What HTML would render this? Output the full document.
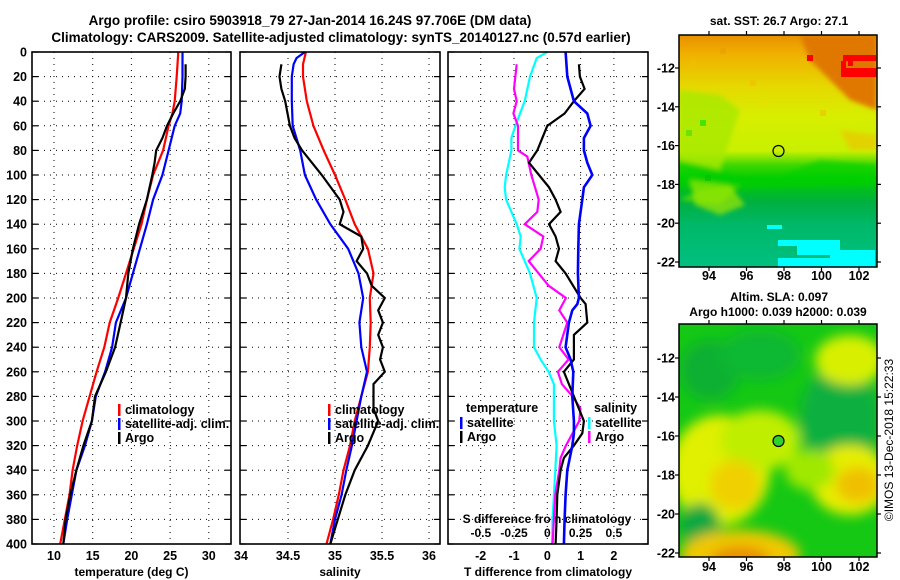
<!DOCTYPE html>
<html><head><meta charset="utf-8">
<style>
html,body{margin:0;padding:0;background:#fff;}
svg{display:block;font-family:"Liberation Sans",Arial,sans-serif;font-weight:bold;}
</style></head>
<body>
<svg id="chart" width="900" height="580" viewBox="0 0 900 580" xmlns="http://www.w3.org/2000/svg">
<defs>
<filter id="blur6" x="-20%" y="-20%" width="140%" height="140%"><feGaussianBlur stdDeviation="6"/></filter>
<filter id="blur3"><feGaussianBlur stdDeviation="2.5"/></filter>
<clipPath id="clipMap1"><rect x="679" y="35" width="198" height="232"/></clipPath>
<clipPath id="clipMap2"><rect x="679" y="324" width="198" height="233"/></clipPath>
<linearGradient id="sstGrad" x1="0" y1="0" x2="0" y2="1">
<stop offset="0" stop-color="#e89000"/>
<stop offset="0.08" stop-color="#f0b000"/>
<stop offset="0.22" stop-color="#e6d800"/>
<stop offset="0.35" stop-color="#d8ee00"/>
<stop offset="0.5" stop-color="#c8f000"/>
<stop offset="0.56" stop-color="#40d800"/>
<stop offset="0.62" stop-color="#00cc00"/>
<stop offset="0.72" stop-color="#00b040"/>
<stop offset="0.82" stop-color="#00b868"/>
<stop offset="1" stop-color="#00c080"/>
</linearGradient>
</defs>
<g id="titles">
<text x="310" y="25" font-size="13.5" text-anchor="middle">Argo profile: csiro 5903918_79 27-Jan-2014 16.24S 97.706E (DM data)</text>
<text x="341" y="42" font-size="13.5" text-anchor="middle">Climatology: CARS2009. Satellite-adjusted climatology: synTS_20140127.nc (0.57d earlier)</text>
</g>
<g id="panels"></g>
<g id="maps">
 <g clip-path="url(#clipMap1)">
  <rect x="679" y="35" width="198" height="232" fill="url(#sstGrad)"/>
  <g filter="url(#blur3)">
   <polygon points="800,35 877,35 877,110 850,100 830,80 810,60" fill="#e07800"/>
   <polygon points="679,90 720,95 740,110 730,140 720,170 679,160" fill="#a8e800" opacity="0.8"/>
   <polygon points="679,160 720,170 740,178 780,176 820,160 877,165 877,185 700,190 679,185" fill="#00d000" opacity="0.6"/>
   <polygon points="679,200 720,205 740,185 700,190" fill="#60e000" opacity="0.7"/>
   <polygon points="690,180 730,185 745,205 720,215 695,205" fill="#a0e800" opacity="0.7"/>
   <polygon points="840,130 877,135 877,150 850,150" fill="#f0c000" opacity="0.6"/>
  </g>
  <g opacity="0.6">
   <rect x="690" y="60" width="6" height="6" fill="#f0c000"/><rect x="720" y="48" width="6" height="6" fill="#e8a000"/>
   <rect x="750" y="80" width="6" height="6" fill="#f0c000"/><rect x="700" y="120" width="6" height="6" fill="#00e000"/>
   <rect x="686" y="130" width="6" height="6" fill="#40e000"/><rect x="760" y="100" width="6" height="6" fill="#e8e000"/>
   <rect x="820" y="110" width="6" height="6" fill="#f0c000"/><rect x="705" y="175" width="6" height="6" fill="#00c000"/>
  </g>
  <rect x="807" y="55" width="6" height="6" fill="#ff0000"/>
  <rect x="843" y="55" width="33" height="6" fill="#ff0000"/><rect x="848" y="60" width="5" height="6" fill="#ff0000"/>
  <rect x="841" y="68" width="36" height="9" fill="#ff0000"/><rect x="841" y="61" width="5" height="16" fill="#ff0000"/>
  <rect x="830" y="250" width="45" height="17" fill="#00ffff"/>
  <rect x="797" y="240" width="43" height="15" fill="#00ffff"/>
  <rect x="767" y="225" width="15" height="4" fill="#00ffff"/>
  <rect x="778" y="258" width="60" height="9" fill="#00ffff"/>
  <rect x="778" y="240" width="20" height="6" fill="#00ffff"/>
 </g>
 <rect x="679" y="35" width="198" height="232" fill="none" stroke="#000" stroke-width="1.5"/>
 <circle cx="778.5" cy="151" r="5.5" fill="none" stroke="#000" stroke-width="1.2"/>
 <g clip-path="url(#clipMap2)">
  <rect x="679" y="324" width="198" height="233" fill="#14c814"/>
  <g filter="url(#blur6)">
   <ellipse cx="710" cy="370" rx="30" ry="30" fill="#08b030"/>
   <ellipse cx="840" cy="420" rx="40" ry="55" fill="#08b040"/>
   <ellipse cx="760" cy="355" rx="40" ry="25" fill="#10b830"/>
   <ellipse cx="850" cy="360" rx="35" ry="25" fill="#d8f000"/>
   <ellipse cx="720" cy="470" rx="50" ry="55" fill="#e0f000"/>
   <ellipse cx="760" cy="440" rx="40" ry="30" fill="#c0ee00"/>
   <ellipse cx="850" cy="480" rx="40" ry="35" fill="#e6ee00"/>
   <ellipse cx="858" cy="485" rx="22" ry="18" fill="#f0c000"/>
   <ellipse cx="735" cy="485" rx="25" ry="25" fill="#f0d000"/>
   <ellipse cx="700" cy="525" rx="20" ry="22" fill="#08a840"/>
   <ellipse cx="740" cy="555" rx="60" ry="25" fill="#f0c800"/>
   <ellipse cx="740" cy="560" rx="30" ry="14" fill="#e89000"/>
   <ellipse cx="810" cy="470" rx="25" ry="20" fill="#a0e800"/>
  </g>
 </g>
 <rect x="679" y="324" width="198" height="233" fill="none" stroke="#000" stroke-width="1.5"/>
 <circle cx="778.5" cy="441" r="5.5" fill="#30d030" stroke="#000" stroke-width="1.2"/>
 <text x="779" y="25" font-size="12" text-anchor="middle">sat. SST: 26.7 Argo: 27.1</text>
 <text x="779" y="301" font-size="12" text-anchor="middle">Altim. SLA: 0.097</text>
 <text x="778" y="316" font-size="12" text-anchor="middle">Argo h1000: 0.039 h2000: 0.039</text>
 <text transform="translate(893,440) rotate(-90)" font-size="12" font-weight="normal" text-anchor="middle">©IMOS 13-Dec-2018 15:22:33</text>
 <g id="mapTicks"></g>
</g>
</svg>
<script>
// ---- depth axis
const depthTicks = [0,20,40,60,80,100,120,140,160,180,200,220,240,260,280,300,320,340,360,380,400];
// ---- panel 1: temperature
const tTicks = [10,15,20,25,30];
const tClimDepth = [0,20,40,50,60,80,100,120,140,160,180,200,220,240,260,280,300,320,340,360,380,400];
const tClim = [26.06,25.85,25.6,25.3,24.8,24.1,22.8,22.0,21.3,20.3,19.3,18.3,17.2,16.5,15.5,14.6,13.7,13.0,12.4,12.0,11.4,10.8];
const tSatDepth = [0,20,40,50,60,80,100,120,140,160,180,200,220,240,260,280,300,320,340,360,380,400];
const tSat = [26.6,26.6,26.5,26.3,25.6,24.8,24.0,22.8,22.0,21.1,20.2,19.3,18.0,17.5,16.6,15.4,14.9,14.0,12.9,12.3,11.7,11.2];
const tArgoDepth = [10,20,30,40,50,60,70,80,90,100,120,140,160,180,200,220,240,260,280,300,320,340,360,380,400];
const tArgo = [27.0,27.0,26.9,26.3,25.4,24.6,24.0,23.2,23.0,22.7,22.0,21.0,20.2,19.6,19.3,18.6,17.9,16.7,15.3,14.9,13.8,12.9,12.1,11.5,11.2];
// ---- panel 2: salinity
const sTicks = [34,34.5,35,35.5,36];
const sClimDepth = [0,10,20,40,60,80,100,120,140,160,180,200,220,240,260,280,300,320,340,360,380,400];
const sClim = [34.69,34.66,34.66,34.70,34.77,34.88,35.0,35.11,35.21,35.35,35.41,35.37,35.38,35.37,35.35,35.28,35.21,35.16,35.09,35.04,34.98,34.91];
const sSatDepth = [0,5,10,20,40,60,80,100,120,140,160,180,200,220,240,260,280,300,320,340,360,380,400];
const sSat = [34.68,34.59,34.56,34.54,34.54,34.55,34.63,34.68,34.80,34.95,35.14,35.25,35.30,35.26,35.28,35.34,35.28,35.23,35.18,35.12,35.07,35.0,34.95];
const sArgoDepth = [10,20,30,40,60,70,80,100,120,130,140,150,160,170,180,190,200,210,220,230,240,250,260,270,290,300,320,340,360,380,400];
const sArgo = [34.43,34.41,34.43,34.47,34.52,34.57,34.65,34.86,35.05,35.09,35.05,35.28,35.30,35.23,35.34,35.39,35.53,35.46,35.51,35.46,35.51,35.48,35.53,35.41,35.41,35.46,35.35,35.21,35.11,35.03,34.95];
// ---- panel 3: differences
const tdTicks = [-2,-1,0,1,2];
const sdTicks = [-0.5,-0.25,0,0.25,0.5];
const tdSatDepth = [0,20,40,50,60,70,80,90,100,110,120,140,160,180,200,205,210,220,240,250,260,280,300,310,320,340,360,380,400];
const tdSat = [0.55,0.6,0.8,1.2,1.3,1.1,1.1,1.2,1.35,1.1,1.05,0.95,0.93,0.92,0.95,0.9,0.75,0.65,0.55,0.7,0.78,0.75,0.8,0.8,0.75,0.6,0.55,0.52,0.5];
const tdArgoDepth = [10,20,30,40,50,60,70,80,90,100,110,120,130,140,150,160,170,180,200,205,220,230,250,260,280,300,310,320,330,340,360,380,400];
const tdArgo = [0.95,0.98,1.12,0.8,0.52,0.0,-0.15,-0.3,-0.55,-0.25,0.05,0.25,0.4,0.05,0.25,0.35,0.25,0.55,1.0,1.15,1.2,0.8,0.8,0.5,0.8,1.1,1.05,0.8,0.5,0.4,0.3,0.28,0.25];
const sdArgoDepth = [10,30,40,50,60,70,80,85,100,120,130,140,150,160,170,180,190,200,210,220,240,250,260,270,280,290,300,310,320,330,340,360,380,400];
const sdArgo = [-0.23,-0.25,-0.23,-0.255,-0.22,-0.22,-0.22,-0.15,-0.12,-0.065,-0.075,-0.17,-0.03,-0.05,-0.14,-0.065,0.01,0.14,0.09,0.15,0.09,0.16,0.08,0.11,0.19,0.25,0.24,0.19,0.14,0.1,0.09,0.06,0.05,0.04];
const sdSatDepth = [0,5,20,40,60,70,80,100,110,120,130,140,150,160,180,200,220,240,250,260,270,300,320,340,360,380,400];
const sdSat = [0.0,-0.08,-0.13,-0.17,-0.24,-0.27,-0.27,-0.31,-0.32,-0.31,-0.27,-0.23,-0.2,-0.21,-0.13,-0.08,-0.1,-0.1,-0.05,0.01,0.05,0.05,0.07,0.06,0.05,0.04,0.035];
// ---- maps
const lonTicks = [94,96,98,100,102];
const latTicks = [-12,-14,-16,-18,-20,-22];

const NS="http://www.w3.org/2000/svg";
const yD = d => 52 + d*1.23;
const xT = t => 54 + (t-10)*7.74;
const xS = s => 288 + (s-34.5)*94;
const xTd = t => 547.3 + t*33.3;
const xSd = s => 547.3 + s*133;
const root = document.getElementById('panels');
function mk(tag, attrs, parent){const e=document.createElementNS(NS,tag);for(const k in attrs)e.setAttribute(k,attrs[k]);(parent||root).appendChild(e);return e;}
function txt(x,y,s,size,anchor,parent){const e=mk('text',{x:x,y:y,'font-size':size,'text-anchor':anchor||'middle'},parent);e.textContent=s;return e;}

const panels=[{x0:32,x1:231,name:'temperature-panel',ticks:tTicks,xf:xT,label:'temperature (deg C)'},
 {x0:240,x1:440,name:'salinity-panel',ticks:sTicks,xf:xS,label:'salinity'},
 {x0:448,x1:648,name:'difference-panel',ticks:tdTicks,xf:xTd,label:'T difference from climatology'}];
const yTop=yD(0), yBot=yD(400);
panels.forEach((p,i)=>{
  const g=mk('g',{});
  
  
  depthTicks.forEach(d=>{
    if(d>0&&d<400) mk('line',{x1:p.x0,x2:p.x1,y1:yD(d),y2:yD(d),stroke:'#000','stroke-width':1,'stroke-dasharray':'1 5'},g);
    mk('line',{x1:p.x0,x2:p.x0+6,y1:yD(d),y2:yD(d),stroke:'#000','stroke-width':1.2},g);
    mk('line',{x1:p.x1-6,x2:p.x1,y1:yD(d),y2:yD(d),stroke:'#000','stroke-width':1.2},g);
  });
  p.ticks.forEach(t=>{
    const x=p.xf(t);
    if(x>p.x0+2&&x<p.x1-2) mk('line',{x1:x,x2:x,y1:yTop,y2:yBot,stroke:'#000','stroke-width':1,'stroke-dasharray':'1 5'},g);
    const lb=txt(x,560,String(t),12.5,'middle',g);
    
    
  });
  const al=txt((p.x0+p.x1)/2,576,p.label,12,'middle',g);
  
  
});
const yl=mk('g',{});


depthTicks.forEach(d=>{txt(27,yD(d)+4.5,String(d),12.5,'end',yl);});
const sdg=mk('g',{});


sdTicks.forEach(s=>{txt(xSd(s),537,String(s),12,'middle',sdg);});
txt(547,523,'S difference from climatology',12,'middle',sdg);

function line(depths, vals, xf, color, w, name){
  const pts=depths.map((d,i)=>xf(vals[i]).toFixed(1)+','+yD(d).toFixed(1)).join(' ');
  const e=mk('polyline',{points:pts,fill:'none',stroke:color,'stroke-width':w,'stroke-linejoin':'miter'});
  
  
}
line(tClimDepth,tClim,xT,'#ff0000',2.2,'temperature-climatology-line');
line(tSatDepth,tSat,xT,'#0000ff',2.2,'temperature-satellite-line');
line(tArgoDepth,tArgo,xT,'#000',2.2,'temperature-argo-line');
line(sClimDepth,sClim,xS,'#ff0000',2.2,'salinity-climatology-line');
line(sSatDepth,sSat,xS,'#0000ff',2.2,'salinity-satellite-line');
line(sArgoDepth,sArgo,xS,'#000',2.2,'salinity-argo-line');
line(sdSatDepth,sdSat,xSd,'#00ffff',2.2,'salinity-satellite-diff-line');
line(sdArgoDepth,sdArgo,xSd,'#ff00ff',2.2,'salinity-argo-diff-line');
line(tdArgoDepth,tdArgo,xTd,'#000',2.2,'temperature-argo-diff-line');
line(tdSatDepth,tdSat,xTd,'#0000ff',2.6,'temperature-satellite-diff-line');

panels.forEach(p=>{mk('rect',{x:p.x0,y:yTop,width:p.x1-p.x0,height:yBot-yTop,fill:'none',stroke:'#000','stroke-width':1.6});});

function legend(x,y,color,label){
  const g=mk('g',{});
  
  
  mk('rect',{x:x-1,y:y-9,width:2.5,height:12,fill:color},g);
  txt(x+6,y+1,label,12.5,'start',g);
}
legend(119,413,'#ff0000','climatology');legend(119,427,'#0000ff','satellite-adj. clim.');legend(119,441,'#000','Argo');
legend(329,413,'#ff0000','climatology');legend(329,427,'#0000ff','satellite-adj. clim.');legend(329,441,'#000','Argo');
txt(466,412,'temperature',12.5,'start');
legend(461,426,'#0000ff','satellite');legend(461,440,'#000','Argo');
txt(594,412,'salinity',12.5,'start');
legend(589,426,'#00ffff','satellite');legend(589,440,'#ff00ff','Argo');

const mt=document.getElementById('mapTicks');
const xLon = lon => 709 + (lon-94)*18.75;
[[68,19.4,280],[358,19.5,571]].forEach(([y12,sc,ylab],k)=>{
  const top = k===0?35:324, bot = k===0?267:557;
  lonTicks.forEach(lon=>{
    const x=xLon(lon);
    mk('line',{x1:x,x2:x,y1:top-4,y2:top,stroke:'#000','stroke-width':1.2},mt);
    mk('line',{x1:x,x2:x,y1:bot,y2:bot+4,stroke:'#000','stroke-width':1.2},mt);
    const t=txt(x,ylab,String(lon),12.5,'middle',mt);
    
    
  });
  latTicks.forEach(lat=>{
    const y=y12+(-lat-12)*sc;
    mk('line',{x1:877,x2:881,y1:y,y2:y,stroke:'#000','stroke-width':1.2},mt);
    mk('line',{x1:675,x2:679,y1:y,y2:y,stroke:'#000','stroke-width':1.2},mt);
    const t=txt(675,y+4.5,String(lat),12.5,'end',mt);
    
    
  });
});
</script>
</body></html>
